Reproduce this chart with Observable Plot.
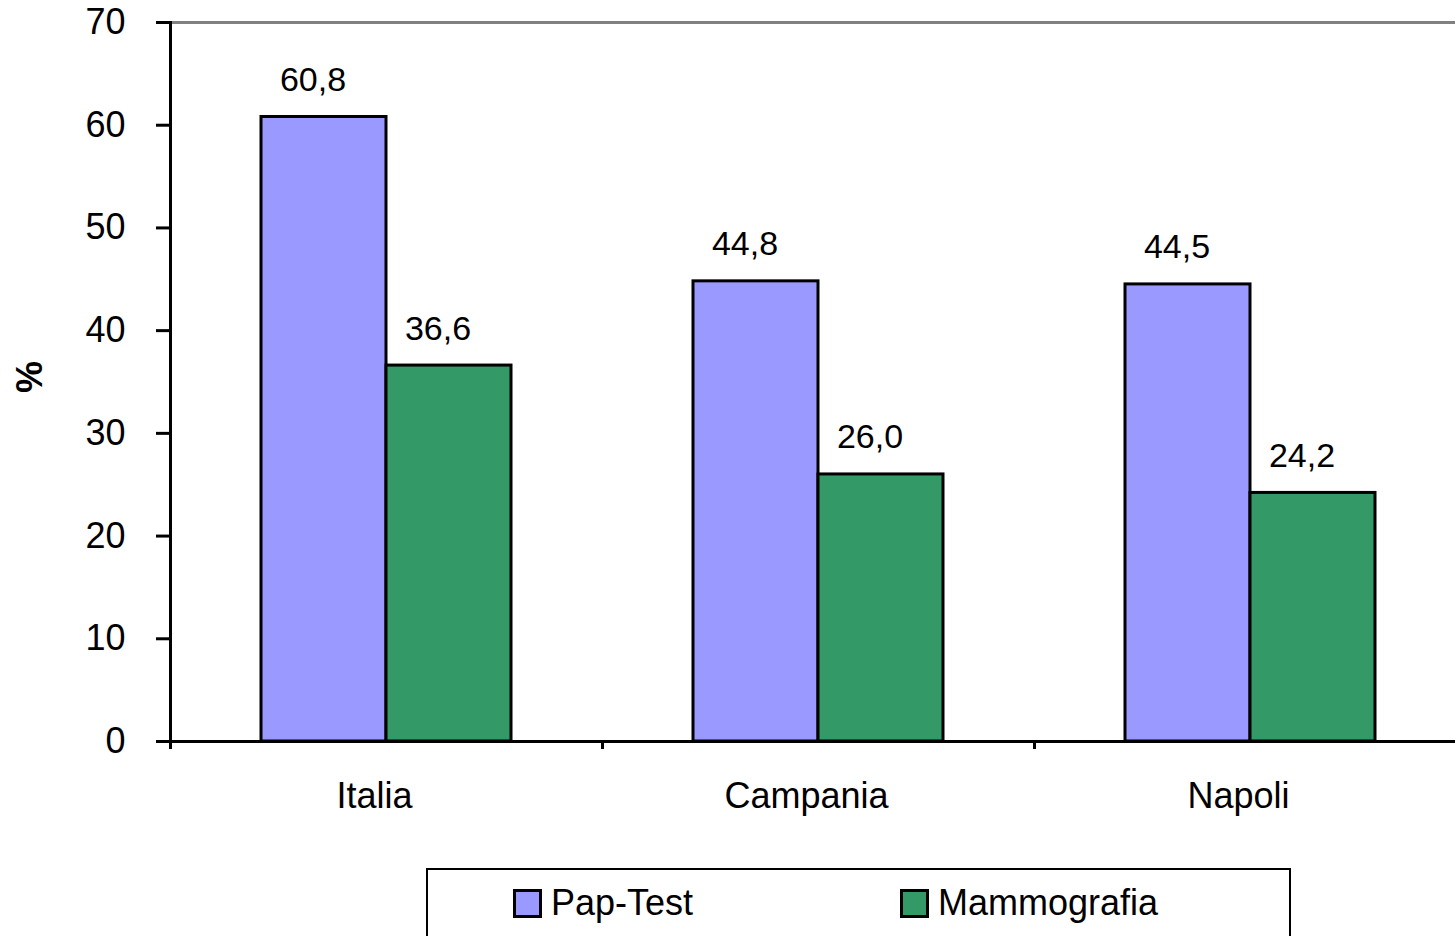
<!DOCTYPE html>
<html>
<head>
<meta charset="utf-8">
<script src="https://cdn.jsdelivr.net/npm/d3@7"></script>
<script src="https://cdn.jsdelivr.net/npm/@observablehq/plot@0.6"></script>
<style>
  html, body { margin: 0; padding: 0; background: #fff; }
  body { font-family: "Liberation Sans", Arial, sans-serif; }
  #wrap { position: relative; width: 1455px; height: 936px; overflow: hidden; }
  #chart svg { display: block; overflow: visible; }
  #legend {
    position: absolute; left: 426px; top: 868px; width: 865px; height: 120px;
    border: 2px solid #000; box-sizing: border-box; background: #fff;
  }
  .item { position: absolute; top: 12px; display: flex; align-items: center; font-size: 36px; color: #000; }
  .sw { width: 23px; height: 23px; border: 3px solid #000; margin-right: 9px; }
</style>
</head>
<body>
<div id="wrap">
  <div id="chart"></div>
  <div id="legend"></div>
</div>
<script>
const categories = ["Italia", "Campania", "Napoli"];
const series = ["Pap-Test", "Mammografia"];
const papTest = [60.8, 44.8, 44.5];
const mammografia = [36.6, 26.0, 24.2];
const seriesColors = ["#9999FF", "#339966"];
const yTicks = [0, 10, 20, 30, 40, 50, 60, 70];
const yLabel = "%";

const values = [papTest, mammografia];
const rows = [];
categories.forEach((c, i) => series.forEach((s, j) => rows.push({category: c, series: s, value: values[j][i]})));
const fmt = v => d3.format(".1f")(v).replace(".", ",");

const H = 820, mT = 22, mB = 79;
const innerH = H - mT - mB;

const chart = Plot.plot({
  width: 1455,
  height: H,
  marginTop: mT,
  marginBottom: mB,
  marginLeft: 170,
  marginRight: 0,
  style: {fontFamily: "'Liberation Sans', Arial, sans-serif", background: "#fff", color: "#000"},
  fx: {domain: categories, range: [170, 1466], padding: 0, label: null, axis: null},
  x: {domain: series, paddingInner: 0, paddingOuter: 0.72, axis: null},
  y: {domain: [0, 70], label: null},
  color: {domain: series, range: seriesColors},
  marks: [
    Plot.frame({anchor: "top", stroke: "#808080", strokeWidth: 3}),
    Plot.barY(rows, {fx: "category", x: "series", y: "value", fill: "series", stroke: "#000", strokeWidth: 3}),
    Plot.ruleY([0], {stroke: "#000", strokeWidth: 3}),
    Plot.frame({anchor: "left", stroke: "#000", strokeWidth: 3, insetBottom: -6, facetAnchor: "left"}),
    Plot.frame({anchor: "left", stroke: "#000", strokeWidth: 3, insetTop: innerH, insetBottom: -6}),
    Plot.axisY({ticks: yTicks, tickSize: 14, tickPadding: 31, fontSize: 36, strokeWidth: 3, label: null, tickFormat: d => d}),
    Plot.axisFx({anchor: "bottom", tickSize: 0, tickPadding: 41, dx: -12, fontSize: 36, label: null}),
    Plot.text(rows, {fx: "category", x: "series", y: "value", text: d => fmt(d.value), lineAnchor: "bottom", dy: -26, dx: -11, fontSize: 34, fill: "#000"}),
    Plot.text([yLabel], {text: d => d, frameAnchor: "left", dx: -140, dy: 11, rotate: -90, fontSize: 36, fontWeight: "bold", fill: "#000", facetAnchor: "left"})
  ]
});
document.getElementById("chart").appendChild(chart);

const legend = document.getElementById("legend");
const legendX = [85, 472];
series.forEach((s, i) => {
  const it = document.createElement("div");
  it.className = "item";
  it.style.left = legendX[i] + "px";
  const sw = document.createElement("div");
  sw.className = "sw";
  sw.style.background = seriesColors[i];
  it.appendChild(sw);
  const t = document.createElement("span");
  t.textContent = s;
  it.appendChild(t);
  legend.appendChild(it);
});
</script>
</body>
</html>
